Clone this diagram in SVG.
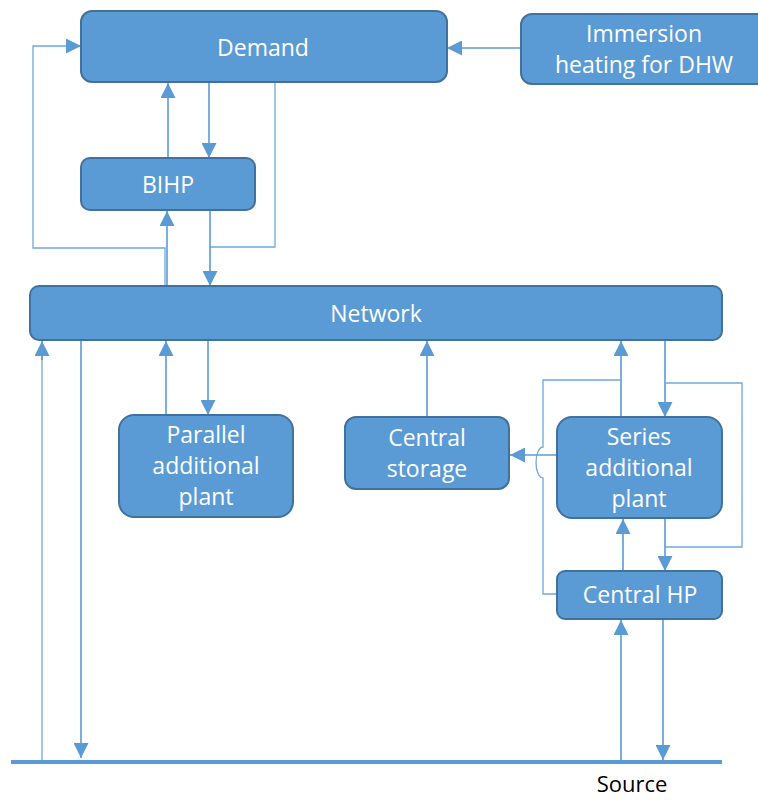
<svg xmlns="http://www.w3.org/2000/svg" width="758" height="800" viewBox="0 0 758 800">
<style>
.box{fill:#5B9BD5;stroke:#41719C;stroke-width:2}
.lbl{font-family:"Open Sans","Liberation Sans",sans-serif;font-size:23px;fill:#FFFFFF;text-anchor:middle}
.src{font-family:"Open Sans","Liberation Sans",sans-serif;font-size:22px;fill:#000000;text-anchor:middle}
.c{fill:none;stroke:#5B9BD5;stroke-width:1.6}
.l{fill:none;stroke:#6FA8DC;stroke-width:1.3}
</style>
<defs>
<marker id="ah" viewBox="0 0 10 10" refX="10" refY="5" markerWidth="15" markerHeight="15" markerUnits="userSpaceOnUse" orient="auto">
<path d="M0,0 L10,5 L0,10 z" fill="#5B9BD5"/>
</marker>
</defs>
<g id="connectors">
<path class="c" d="M521,48 H447" marker-end="url(#ah)"/>
<path class="c" d="M168,158 V83" marker-end="url(#ah)"/>
<path class="c" d="M209,83 V158" marker-end="url(#ah)"/>
<path class="l" d="M275,83 V247 H210"/>
<path class="c" d="M210,210 V286" marker-end="url(#ah)"/>
<path class="c" d="M167,286 V211" marker-end="url(#ah)"/>
<path class="l" d="M165,286 V248 H33 V46 H66"/>
<path class="c" d="M66,46 H81" marker-end="url(#ah)"/>
<path class="l" d="M42,762 V345"/>
<path class="c" d="M42,360 V341" marker-end="url(#ah)"/>
<path class="c" d="M81,340 V758" marker-end="url(#ah)"/>
<path class="c" d="M166,415 V341" marker-end="url(#ah)"/>
<path class="c" d="M208,340 V415" marker-end="url(#ah)"/>
<path class="c" d="M427,417 V341" marker-end="url(#ah)"/>
<path class="c" d="M621,417 V341" marker-end="url(#ah)"/>
<path class="c" d="M665,340 V417" marker-end="url(#ah)"/>
<path class="c" d="M557,455 H510" marker-end="url(#ah)"/>
<path class="l" d="M620,380 H543 V447 A7,15.5 0 0 0 543,478 V594 H557"/>
<path class="l" d="M665,383 H742 V547 H665"/>
<path class="c" d="M665,518 V571" marker-end="url(#ah)"/>
<path class="c" d="M623,571 V519" marker-end="url(#ah)"/>
<path class="c" d="M621,762 V620" marker-end="url(#ah)"/>
<path class="c" d="M663,619 V760" marker-end="url(#ah)"/>
<path d="M11,762 H722" stroke="#5B9BD5" stroke-width="4" fill="none"/>
</g>
<g id="demand">
<rect class="box" x="81" y="11" width="366" height="71" rx="11"/>
<text class="lbl" x="263" y="56">Demand</text>
</g>
<g id="immersion">
<rect class="box" x="521" y="14" width="250" height="70" rx="11"/>
<text class="lbl" x="644" y="42">Immersion</text>
<text class="lbl" x="644" y="73">heating for DHW</text>
</g>
<g id="bihp">
<rect class="box" x="81" y="158" width="174" height="52" rx="9"/>
<text class="lbl" x="168" y="193">BIHP</text>
</g>
<g id="network">
<rect class="box" x="30" y="286" width="692" height="54" rx="9"/>
<text class="lbl" x="376" y="322">Network</text>
</g>
<g id="parallel">
<rect class="box" x="119" y="415" width="174" height="102" rx="15"/>
<text class="lbl" x="206" y="443">Parallel</text>
<text class="lbl" x="206" y="474">additional</text>
<text class="lbl" x="206" y="505">plant</text>
</g>
<g id="storage">
<rect class="box" x="345" y="417" width="164" height="72" rx="11"/>
<text class="lbl" x="427" y="446">Central</text>
<text class="lbl" x="427" y="477">storage</text>
</g>
<g id="series">
<rect class="box" x="557" y="417" width="165" height="101" rx="15"/>
<text class="lbl" x="639" y="445">Series</text>
<text class="lbl" x="639" y="476">additional</text>
<text class="lbl" x="639" y="507">plant</text>
</g>
<g id="centralhp">
<rect class="box" x="557" y="571" width="165" height="48" rx="8"/>
<text class="lbl" x="640" y="603">Central HP</text>
</g>
<g id="source">
<text class="src" x="632" y="792">Source</text>
</g>
</svg>
